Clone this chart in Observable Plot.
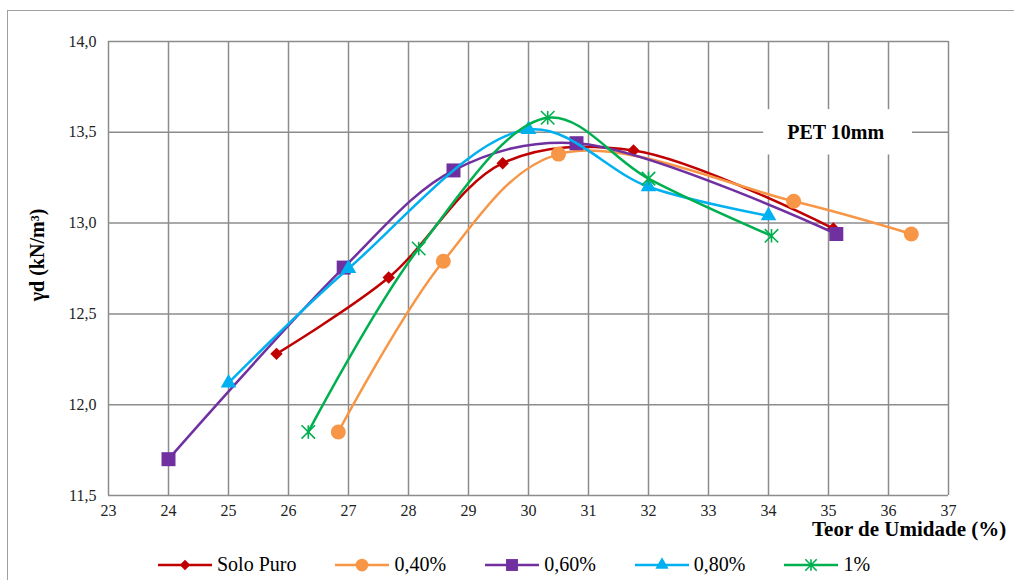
<!DOCTYPE html>
<html>
<head>
<meta charset="utf-8">
<script src="https://cdn.jsdelivr.net/npm/d3@7"></script>
<script src="https://cdn.jsdelivr.net/npm/@observablehq/plot@0.6"></script>
<style>
  html, body { margin: 0; padding: 0; background: #fff; }
  #wrap { position: relative; width: 1014px; height: 580px; overflow: hidden; background: #fff;
          font-family: "Liberation Serif", "Times New Roman", serif; }
  #frame { position: absolute; left: 7px; top: 10px; width: 1100px; height: 700px;
           border: 1.5px solid #a0a0a0; box-sizing: border-box; }
  #chart { position: absolute; left: 0; top: 0; }
  #chart svg, #chart svg text { font-family: "Liberation Serif", "Times New Roman", serif !important; }
  #ylabel { position: absolute; left: 37px; top: 255px; transform: translate(-50%, -50%) rotate(-90deg);
            font-weight: bold; font-size: 20px; white-space: nowrap; color: #000; }
  #xlabel { position: absolute; left: 812px; top: 519px; font-weight: bold; font-size: 21px;
            line-height: 1; white-space: nowrap; color: #000; }
  #legend { position: absolute; left: 158px; top: 553px; display: flex; align-items: center; gap: 39px;
            font-size: 20px; color: #000; font-family: "Liberation Serif", "Times New Roman", serif; }
  .item { display: flex; align-items: center; }
  .item span { margin-left: 5px; white-space: nowrap; }
</style>
</head>
<body>
<div id="wrap">
  <div id="frame"></div>
  <div id="chart"></div>
  <div id="ylabel">γd (kN/m³)</div>
  <div id="xlabel">Teor de Umidade (%)</div>
  <div id="legend"></div>
</div>
<script>
// ---- Data ----
const seriesNames = ["Solo Puro", "0,40%", "0,60%", "0,80%", "1%"];
const soloX = [25.8, 27.67, 29.57, 31.75, 35.08];
const soloY = [12.28, 12.70, 13.33, 13.40, 12.97];
const p40X = [26.83, 28.58, 30.5, 34.42, 36.38];
const p40Y = [11.85, 12.79, 13.38, 13.12, 12.94];
const p60X = [24.0, 26.92, 28.75, 30.8, 35.13];
const p60Y = [11.70, 12.755, 13.29, 13.44, 12.94];
const p80X = [25.0, 27.0, 30.0, 32.0, 34.0];
const p80Y = [12.12, 12.75, 13.515, 13.20, 13.04];
const p1X = [26.33, 28.17, 30.32, 32.0, 34.05];
const p1Y = [11.85, 12.86, 13.58, 13.245, 12.93];

const xTicks = [23, 24, 25, 26, 27, 28, 29, 30, 31, 32, 33, 34, 35, 36, 37];
const yTicks = [11.5, 12.0, 12.5, 13.0, 13.5, 14.0];
const annotationText = "PET 10mm";

// ---- Styles ----
const colors = ["#C00000", "#F79646", "#7030A0", "#00B0F0", "#00B050"];
// Excel-like star marker: X plus vertical bar
const starSymbol = {
  draw(context, size) {
    const r = Math.sqrt(size) / 2;
    context.moveTo(-r, -r); context.lineTo(r, r);
    context.moveTo(r, -r); context.lineTo(-r, r);
    context.moveTo(0, -r); context.lineTo(0, r);
  }
};
const symbols = ["diamond2", "circle", "square", "triangle", starSymbol];
const radii = [5.6, 7.5, 7.9, 5.8, 7.6];
const filled = [true, true, true, true, false];

const xsAll = [soloX, p40X, p60X, p80X, p1X];
const ysAll = [soloY, p40Y, p60Y, p80Y, p1Y];
const series = seriesNames.map((name, i) => ({
  name, color: colors[i], symbol: symbols[i], r: radii[i], filled: filled[i],
  rows: xsAll[i].map((x, j) => ({x, y: ysAll[i][j]}))
}));

const annotation = [{x1: 33.92, x2: 36.4, y1: 13.375, y2: 13.625, x: 35.12, y: 13.5, text: annotationText}];

const gridColor = "#8c8c8c";
const serif = "Liberation Serif, Times New Roman, serif";

const marks = [
  Plot.ruleX(xTicks, {stroke: gridColor, strokeWidth: 1.5}),
  Plot.ruleY(yTicks, {stroke: gridColor, strokeWidth: 1.5}),
  Plot.rect(annotation, {x1: "x1", x2: "x2", y1: "y1", y2: "y2", fill: "white"}),
  Plot.text(annotation, {x: "x", y: "y", text: "text", fontSize: 20, fontWeight: "bold", fill: "#000", fontFamily: serif})
];
for (const s of series) {
  marks.push(Plot.line(s.rows, {x: "x", y: "y", stroke: s.color, strokeWidth: 2.5, curve: "catmull-rom"}));
  marks.push(Plot.dot(s.rows, s.filled
    ? {x: "x", y: "y", symbol: () => s.symbol, r: s.r, fill: s.color, stroke: "none"}
    : {x: "x", y: "y", symbol: () => s.symbol, r: s.r, fill: "none", stroke: s.color, strokeWidth: 1.6}));
}

const chart = Plot.plot({
  width: 1014,
  height: 580,
  marginLeft: 108,
  marginRight: 66,
  marginTop: 41,
  marginBottom: 85,
  style: {background: "transparent", fontFamily: serif, fontSize: "16px", color: "#222", overflow: "visible"},
  x: {domain: [23, 37], ticks: xTicks, tickSize: 0, tickPadding: 9, tickFormat: d => String(d), label: null},
  y: {domain: [11.5, 14], ticks: yTicks, tickSize: 0, tickPadding: 12, tickFormat: d => d.toFixed(1).replace(".", ","), label: null},
  symbol: {type: "identity"},
  marks
});
document.getElementById("chart").appendChild(chart);

// ---- Legend ----
const legend = d3.select("#legend");
for (const s of series) {
  const item = legend.append("div").attr("class", "item");
  const svg = item.append("svg").attr("width", 54).attr("height", 16);
  svg.append("line").attr("x1", 0).attr("x2", 54).attr("y1", 8).attr("y2", 8)
    .attr("stroke", s.color).attr("stroke-width", 2.5);
  const sym = typeof s.symbol === "string"
    ? {diamond2: d3.symbolDiamond2, circle: d3.symbolCircle, square: d3.symbolSquare, triangle: d3.symbolTriangle}[s.symbol]
    : s.symbol;
  const rr = s.r * 0.85;
  svg.append("path").attr("transform", "translate(27,8)")
    .attr("d", d3.symbol(sym, rr * rr * Math.PI)())
    .attr("fill", s.filled ? s.color : "none")
    .attr("stroke", s.filled ? "none" : s.color)
    .attr("stroke-width", 1.6);
  item.append("span").text(s.name);
}
</script>
</body>
</html>
